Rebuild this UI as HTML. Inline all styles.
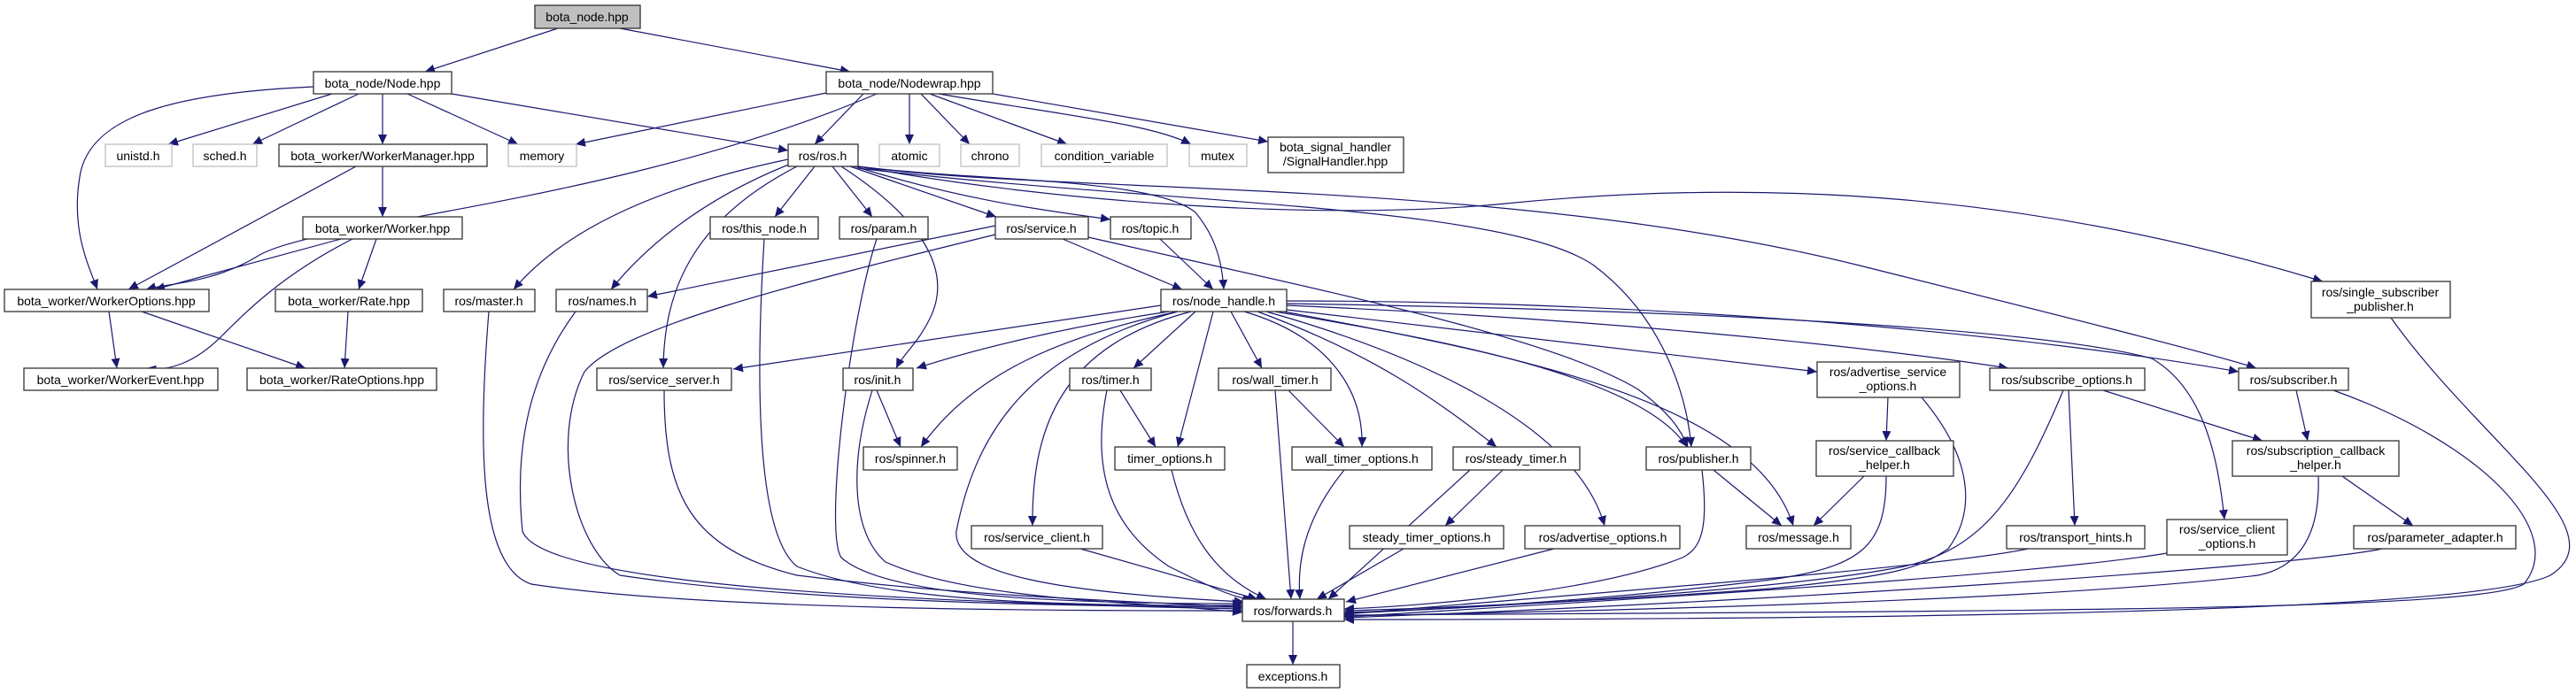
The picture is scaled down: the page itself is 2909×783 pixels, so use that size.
<!DOCTYPE html>
<html><head><meta charset="utf-8"><style>
html,body{margin:0;padding:0;background:#fff;}
svg{display:block;}
text{font-family:"Liberation Sans",sans-serif;font-size:14px;fill:#000;text-anchor:middle;}
.n{fill:#fff;stroke:#333;stroke-width:1.3;}
.g{fill:#fff;stroke:#bfbfbf;stroke-width:1.3;}
.e path{fill:none;stroke:#191970;stroke-width:1.2;marker-end:url(#ar);}
</style></head><body>
<svg width="2909" height="783" viewBox="0 0 2909 783" xmlns="http://www.w3.org/2000/svg">
<defs><marker id="ar" markerUnits="userSpaceOnUse" markerWidth="12" markerHeight="10" refX="11" refY="5" orient="auto"><path d="M0,0 L11,5 L0,10 z" fill="#191970"/></marker></defs>
<g class="e">
<path d="M630 32 L480 81"/>
<path d="M700 32 L960 81"/>
<path d="M354 98 C200 105 100 130 90 200 C80 260 100 300 110 327"/>
<path d="M375 106 L190 163"/>
<path d="M405 106 L285 163"/>
<path d="M432 106 L432 163"/>
<path d="M460 106 L585 163"/>
<path d="M510 106 L890 170"/>
<path d="M933 105 L650 163"/>
<path d="M975 106 L920 163"/>
<path d="M1027 106 L1027 163"/>
<path d="M1040 106 L1095 163"/>
<path d="M1050 106 L1205 163"/>
<path d="M1060 106 C1200 130 1300 140 1345 163"/>
<path d="M1121 106 L1432 160"/>
<path d="M990 106 C700 230 350 250 290 290 C240 320 190 320 165 327"/>
<path d="M402 188 L145 327"/>
<path d="M432 188 L432 245"/>
<path d="M385 270 L175 327"/>
<path d="M425 270 L405 327"/>
<path d="M398 270 C320 310 280 350 250 380 C220 410 190 420 165 416"/>
<path d="M123 352 L132 416"/>
<path d="M160 352 L345 416"/>
<path d="M393 352 L389 416"/>
<path d="M890 180 C700 220 620 280 580 327"/>
<path d="M893 185 C780 230 720 290 690 327"/>
<path d="M900 188 C780 250 750 330 749 416"/>
<path d="M920 188 L875 245"/>
<path d="M940 188 L985 245"/>
<path d="M950 188 C1030 240 1080 300 1050 360 C1035 390 1020 400 1012 416"/>
<path d="M960 188 L1125 245"/>
<path d="M965 188 C1100 230 1200 240 1254 248"/>
<path d="M969 188 C1100 205 1300 200 1350 240 C1375 270 1380 300 1382 327"/>
<path d="M969 190 C1300 230 1700 230 1800 300 C1880 360 1905 450 1910 505"/>
<path d="M969 188 C1200 220 1700 200 2100 300 C2300 350 2500 400 2548 416"/>
<path d="M969 188 C1200 230 1500 250 1700 230 C2000 200 2300 220 2623 318"/>
<path d="M552 352 C540 500 540 640 600 660 C800 690 1200 690 1403 690"/>
<path d="M650 352 C600 420 580 500 590 600 C610 660 1000 680 1403 688"/>
<path d="M1124 255 L731 335"/>
<path d="M1124 265 C900 320 700 370 660 420 C620 500 650 620 700 650 C900 680 1200 685 1403 686"/>
<path d="M1200 270 L1335 327"/>
<path d="M1229 268 C1500 330 1750 380 1850 440 C1890 470 1900 490 1906 505"/>
<path d="M1310 270 L1370 327"/>
<path d="M863 270 C855 400 850 600 900 640 C1000 680 1200 685 1403 684"/>
<path d="M990 270 C960 360 930 600 950 630 C1000 675 1200 682 1403 682"/>
<path d="M1311 345 L828 417"/>
<path d="M1320 352 C1200 370 1100 395 1035 416"/>
<path d="M1330 352 C1200 380 1100 420 1040 505"/>
<path d="M1330 352 C1150 400 1100 500 1080 600 C1075 650 1200 670 1405 680"/>
<path d="M1345 352 C1200 390 1165 480 1166 594"/>
<path d="M1350 352 L1280 416"/>
<path d="M1370 352 L1330 505"/>
<path d="M1390 352 L1425 416"/>
<path d="M1405 352 C1500 380 1540 440 1538 505"/>
<path d="M1420 352 C1550 400 1620 450 1690 505"/>
<path d="M1430 352 C1600 400 1780 480 1812 594"/>
<path d="M1440 352 C1600 380 1850 420 1905 505"/>
<path d="M1450 352 C1700 400 1980 450 2025 594"/>
<path d="M1453 350 L2052 420"/>
<path d="M1453 345 C1800 360 2100 390 2268 416"/>
<path d="M1453 340 C1900 340 2300 380 2528 420"/>
<path d="M1453 343 C1900 350 2300 370 2430 405 C2490 440 2505 520 2512 587"/>
<path d="M990 441 L1017 505"/>
<path d="M985 441 C960 520 960 600 1000 635 C1100 680 1300 680 1403 692"/>
<path d="M1265 441 L1305 505"/>
<path d="M1250 441 C1230 540 1260 600 1320 640 C1380 670 1400 677 1415 677"/>
<path d="M1455 441 L1518 505"/>
<path d="M1440 441 L1458 677"/>
<path d="M1323 531 C1340 600 1370 650 1430 677"/>
<path d="M1518 531 C1470 590 1465 640 1468 677"/>
<path d="M1697 531 L1632 594"/>
<path d="M1660 531 L1500 677"/>
<path d="M1585 620 L1487 677"/>
<path d="M1220 620 L1420 677"/>
<path d="M1755 620 L1520 680"/>
<path d="M1935 531 L2012 594"/>
<path d="M1922 531 C1930 600 1920 620 1900 630 C1800 670 1600 685 1518 688"/>
<path d="M2132 449 L2130 498"/>
<path d="M2170 449 C2230 520 2230 580 2200 620 C2170 640 2150 650 2000 665 C1800 680 1600 688 1518 690"/>
<path d="M2105 538 L2048 594"/>
<path d="M2130 538 C2130 620 2100 640 2000 655 C1800 680 1600 690 1518 692"/>
<path d="M2336 441 L2343 594"/>
<path d="M2375 441 L2555 498"/>
<path d="M2330 441 C2280 560 2240 620 2150 640 C2000 670 1600 690 1518 693"/>
<path d="M2593 441 L2606 498"/>
<path d="M2635 441 C2800 500 2900 600 2850 660 C2800 690 2300 690 1518 695"/>
<path d="M2645 538 L2725 594"/>
<path d="M2618 538 C2620 600 2600 640 2550 650 C2300 680 1800 690 1518 696"/>
<path d="M2290 620 C2200 640 1800 670 1518 694"/>
<path d="M2447 625 C2300 650 1800 680 1518 697"/>
<path d="M2690 620 C2600 640 2000 680 1518 698"/>
<path d="M2700 359 C2800 500 2960 600 2880 650 C2800 690 2200 700 1518 700"/>
<path d="M750 441 C750 560 780 620 900 650 C1100 675 1300 680 1403 686"/>
<path d="M1460 702 L1460 751"/>
</g>
<g>
<rect x="604" y="6" width="119" height="26" fill="#bfbfbf" stroke="#333" stroke-width="1.3"/><text x="663" y="24">bota_node.hpp</text>
<rect class="n" x="354" y="81" width="156" height="25"/><text x="432" y="99">bota_node/Node.hpp</text>
<rect class="n" x="933" y="81" width="188" height="25"/><text x="1027" y="99">bota_node/Nodewrap.hpp</text>
<rect class="g" x="119" y="163" width="75" height="25"/><text x="156" y="181">unistd.h</text>
<rect class="g" x="218" y="163" width="72" height="25"/><text x="254" y="181">sched.h</text>
<rect class="n" x="315" y="163" width="235" height="25"/><text x="432" y="181">bota_worker/WorkerManager.hpp</text>
<rect class="g" x="574" y="163" width="77" height="25"/><text x="612" y="181">memory</text>
<rect class="n" x="890" y="163" width="79" height="25"/><text x="929" y="181">ros/ros.h</text>
<rect class="g" x="993" y="163" width="68" height="25"/><text x="1027" y="181">atomic</text>
<rect class="g" x="1085" y="163" width="66" height="25"/><text x="1118" y="181">chrono</text>
<rect class="g" x="1176" y="163" width="142" height="25"/><text x="1247" y="181">condition_variable</text>
<rect class="g" x="1343" y="163" width="65" height="25"/><text x="1375" y="181">mutex</text>
<rect class="n" x="1432" y="155" width="153" height="40"/><text x="1508" y="171">bota_signal_handler</text><text x="1508" y="187">/SignalHandler.hpp</text>
<rect class="n" x="342" y="245" width="180" height="25"/><text x="432" y="263">bota_worker/Worker.hpp</text>
<rect class="n" x="802" y="245" width="122" height="25"/><text x="863" y="263">ros/this_node.h</text>
<rect class="n" x="948" y="245" width="100" height="25"/><text x="998" y="263">ros/param.h</text>
<rect class="n" x="1124" y="245" width="105" height="25"/><text x="1176" y="263">ros/service.h</text>
<rect class="n" x="1254" y="245" width="91" height="25"/><text x="1299" y="263">ros/topic.h</text>
<rect class="n" x="5" y="327" width="231" height="25"/><text x="120" y="345">bota_worker/WorkerOptions.hpp</text>
<rect class="n" x="311" y="327" width="166" height="25"/><text x="394" y="345">bota_worker/Rate.hpp</text>
<rect class="n" x="501" y="327" width="103" height="25"/><text x="552" y="345">ros/master.h</text>
<rect class="n" x="628" y="327" width="103" height="25"/><text x="680" y="345">ros/names.h</text>
<rect class="n" x="1311" y="327" width="142" height="25"/><text x="1382" y="345">ros/node_handle.h</text>
<rect class="n" x="2610" y="318" width="157" height="41"/><text x="2688" y="335">ros/single_subscriber</text><text x="2688" y="351">_publisher.h</text>
<rect class="n" x="27" y="416" width="219" height="25"/><text x="136" y="434">bota_worker/WorkerEvent.hpp</text>
<rect class="n" x="279" y="416" width="214" height="25"/><text x="386" y="434">bota_worker/RateOptions.hpp</text>
<rect class="n" x="674" y="416" width="152" height="25"/><text x="750" y="434">ros/service_server.h</text>
<rect class="n" x="952" y="416" width="79" height="25"/><text x="991" y="434">ros/init.h</text>
<rect class="n" x="1208" y="416" width="92" height="25"/><text x="1254" y="434">ros/timer.h</text>
<rect class="n" x="1376" y="416" width="127" height="25"/><text x="1440" y="434">ros/wall_timer.h</text>
<rect class="n" x="2052" y="409" width="161" height="40"/><text x="2132" y="425">ros/advertise_service</text><text x="2132" y="441">_options.h</text>
<rect class="n" x="2247" y="416" width="175" height="25"/><text x="2334" y="434">ros/subscribe_options.h</text>
<rect class="n" x="2528" y="416" width="124" height="25"/><text x="2590" y="434">ros/subscriber.h</text>
<rect class="n" x="975" y="505" width="106" height="26"/><text x="1028" y="523">ros/spinner.h</text>
<rect class="n" x="1259" y="505" width="124" height="26"/><text x="1321" y="523">timer_options.h</text>
<rect class="n" x="1459" y="505" width="158" height="26"/><text x="1538" y="523">wall_timer_options.h</text>
<rect class="n" x="1641" y="505" width="143" height="26"/><text x="1712" y="523">ros/steady_timer.h</text>
<rect class="n" x="1859" y="505" width="118" height="26"/><text x="1918" y="523">ros/publisher.h</text>
<rect class="n" x="2051" y="498" width="155" height="40"/><text x="2128" y="514">ros/service_callback</text><text x="2128" y="530">_helper.h</text>
<rect class="n" x="2521" y="498" width="188" height="40"/><text x="2615" y="514">ros/subscription_callback</text><text x="2615" y="530">_helper.h</text>
<rect class="n" x="1097" y="594" width="148" height="26"/><text x="1171" y="612">ros/service_client.h</text>
<rect class="n" x="1524" y="594" width="174" height="26"/><text x="1611" y="612">steady_timer_options.h</text>
<rect class="n" x="1722" y="594" width="175" height="26"/><text x="1810" y="612">ros/advertise_options.h</text>
<rect class="n" x="1972" y="594" width="118" height="26"/><text x="2031" y="612">ros/message.h</text>
<rect class="n" x="2266" y="594" width="156" height="26"/><text x="2344" y="612">ros/transport_hints.h</text>
<rect class="n" x="2447" y="587" width="136" height="40"/><text x="2515" y="603">ros/service_client</text><text x="2515" y="619">_options.h</text>
<rect class="n" x="2658" y="594" width="183" height="26"/><text x="2750" y="612">ros/parameter_adapter.h</text>
<rect class="n" x="1403" y="677" width="115" height="25"/><text x="1460" y="695">ros/forwards.h</text>
<rect class="n" x="1408" y="751" width="105" height="26"/><text x="1460" y="769">exceptions.h</text>
</g>
</svg>
</body></html>
